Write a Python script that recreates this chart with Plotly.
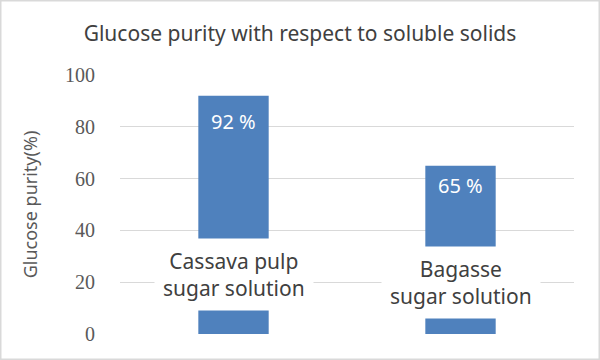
import plotly.graph_objects as go

categories = ["Cassava pulp<br>sugar solution", "Bagasse<br>sugar solution"]
purity = [92, 65]
label_y = [22.8, 19.7]
value_label_shift = [-10, -4]
yticks = [0, 20, 40, 60, 80, 100]

W, H = 600, 360
ml, mr, mt, mb = 120, 26, 75, 26
pw, ph = W - ml - mr, H - mt - mb

fig = go.Figure()
fig.add_trace(go.Bar(
    x=[0, 1], y=purity, marker_color="#4F81BD", marker_line_width=0,
    width=0.31, hoverinfo="skip"))

annotations = []
for i, (cat, v, ly, sh) in enumerate(zip(categories, purity, label_y, value_label_shift)):
    annotations.append(dict(
        x=i, y=v, xref="x", yref="y", text=f"{v} %", showarrow=False,
        yanchor="top", yshift=sh,
        font=dict(family="Noto Sans", size=20, color="white")))
    annotations.append(dict(
        x=i, y=ly, xref="x", yref="y", text=cat, showarrow=False,
        bgcolor="white", borderpad=8, xanchor="center", yanchor="middle",
        font=dict(family="Noto Sans", size=21, color="#404040")))

fig.update_layout(
    width=W, height=H,
    margin=dict(l=ml, r=mr, t=mt, b=mb),
    paper_bgcolor="white", plot_bgcolor="white",
    showlegend=False,
    title=dict(text="Glucose purity with respect to soluble solids",
               x=0.5, xref="container", y=1 - 34 / H, yref="container",
               xanchor="center", yanchor="middle",
               font=dict(family="Noto Sans", size=21, color="#404040")),
    xaxis=dict(range=[-0.5, 1.5], showticklabels=False, showgrid=False,
               zeroline=False, showline=False, fixedrange=True),
    yaxis=dict(range=[0, 100], tickvals=yticks, ticktext=[str(t) for t in yticks],
               showgrid=True, gridcolor="#D9D9D9", gridwidth=1,
               zeroline=False, showline=False, ticks="",
               ticklabelstandoff=24,
               tickfont=dict(family="Liberation Serif", size=20, color="#595959"),
               title=dict(text="Glucose purity(%)", standoff=22,
                          font=dict(family="Noto Sans", size=18, color="#595959"))),
    annotations=annotations,
    shapes=[dict(type="rect", xref="paper", yref="paper",
                 x0=(-ml + 0.75) / pw, x1=1 + (mr - 0.75) / pw,
                 y0=(-mb + 0.75) / ph, y1=1 + (mt - 0.75) / ph,
                 line=dict(color="#D9D9D9", width=1.5), layer="below")],
)

fig.write_html("out.html")
